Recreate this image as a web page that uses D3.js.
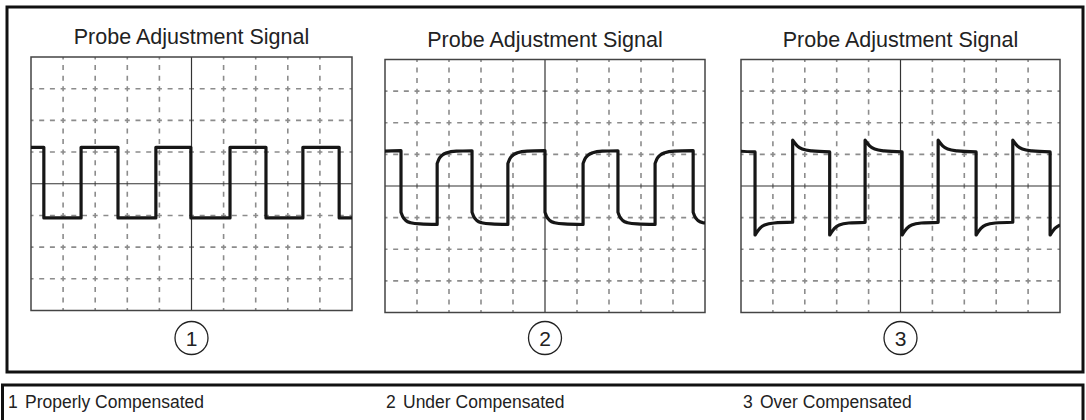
<!DOCTYPE html>
<html>
<head>
<meta charset="utf-8">
<script src="https://cdn.jsdelivr.net/npm/d3@7"></script>
<style>
  body { margin: 0; background: #fff; }
  svg text { font-family: "Liberation Sans", Arial, Helvetica, sans-serif; fill: #222; }
</style>
</head>
<body>
<div id="chart"></div>
<script>
// texts
let titles = ["Probe Adjustment Signal", "Probe Adjustment Signal", "Probe Adjustment Signal"];
let panelNums = ["1", "2", "3"];
let legendLabels = ["Properly Compensated", "Under Compensated", "Over Compensated"];

// scope graticule: 10 x 8 divisions, centre lines drawn solid
let gridX = [1, 2, 3, 4, 6, 7, 8, 9];
let gridY = [-3, -2, -1, 1, 2, 3];

// edge times (div). first = rise before the left edge, last = right edge of screen
let edges1 = [-0.75, 0.40, 1.56, 2.71, 3.89, 4.98, 6.20, 7.32, 8.47, 9.60, 10];
let edges2 = [-0.65, 0.50, 1.63, 2.72, 3.84, 5.00, 6.19, 7.28, 8.44, 9.63, 10];
let edges3 = [-0.72, 0.44, 1.62, 2.78, 3.89, 5.05, 6.18, 7.37, 8.52, 9.69, 10];

// trace after an edge: [time since edge (div), level (div)]
let high1 = [[0, 1.15], [1.3, 1.15]];
let low1  = [[0, -1.08], [1.3, -1.08]];
let high2 = [[0, 0.71], [0.06, 0.86], [0.15, 0.97], [0.3, 1.05], [0.6, 1.10], [1.3, 1.12]];
let low2  = [[0, -0.83], [0.06, -0.98], [0.15, -1.09], [0.3, -1.16], [0.6, -1.20], [1.3, -1.22]];
let high3 = [[0, 1.45], [0.06, 1.37], [0.15, 1.26], [0.3, 1.17], [0.6, 1.11], [1.3, 1.07]];
let low3  = [[0, -1.55], [0.06, -1.46], [0.15, -1.34], [0.3, -1.23], [0.6, -1.17], [1.3, -1.14]];

let width = 1086, height = 420;

let panels = [
  {x0: 31, x1: 352, y0: 57, y1: 310.5, edges: edges1, high: high1, low: low1},
  {x0: 385, x1: 705, y0: 59.5, y1: 312.5, edges: edges2, high: high2, low: low2},
  {x0: 741, x1: 1060, y0: 59.5, y1: 312.5, edges: edges3, high: high3, low: low3}
];

let svg = d3.select("#chart").append("svg")
  .attr("width", width)
  .attr("height", height);

// outer frame + legend box
svg.append("rect")
  .attr("x", 7).attr("y", 7)
  .attr("width", 1076).attr("height", 365)
  .attr("fill", "none").attr("stroke", "#111").attr("stroke-width", 3);

svg.append("rect")
  .attr("x", 2.5).attr("y", 385)
  .attr("width", 1080.5).attr("height", 60)
  .attr("fill", "none").attr("stroke", "#111").attr("stroke-width", 3);

let valueAt = (shape, t) => d3.scaleLinear()
  .domain(shape.map(p => p[0]))
  .range(shape.map(p => p[1]))
  .clamp(true)(t);

let tracePath = (p, x, y) => {
  let line = d3.line()
    .x(d => x(d[0]))
    .y(d => y(d[1]))
    .curve(d3.curveMonotoneX);
  let d = "";
  for (let i = 0; i < p.edges.length - 1; i++) {
    let t0 = p.edges[i], t1 = p.edges[i + 1];
    let shape = i % 2 == 0 ? p.high : p.low;
    let pts = shape.filter(s => s[0] < t1 - t0 - 0.02).map(s => [t0 + s[0], s[1]]);
    pts.push([t1, valueAt(shape, t1 - t0)]);
    let seg = line(pts);
    d += i == 0 ? seg : "L" + seg.slice(1); // join segments with a vertical edge
  }
  return d;
};

panels.forEach((p, i) => {
  let x = d3.scaleLinear().domain([0, 10]).range([p.x0, p.x1]);
  let y = d3.scaleLinear().domain([-4, 4]).range([p.y1, p.y0]);
  let dx = x(1) - x(0), dy = y(0) - y(1);
  let dash = 5;

  let g = svg.append("g");

  svg.append("clipPath").attr("id", "clip" + i)
    .append("rect")
    .attr("x", p.x0).attr("y", p.y0)
    .attr("width", p.x1 - p.x0).attr("height", p.y1 - p.y0);

  // dashed graticule
  g.selectAll(".gx").data(gridX).enter().append("line")
    .attr("x1", d => x(d)).attr("x2", d => x(d))
    .attr("y1", p.y0).attr("y2", p.y1)
    .attr("stroke", "#8c8c8c").attr("stroke-width", 1.6)
    .attr("stroke-dasharray", `${dash} ${dy / 3 - dash}`)
    .attr("stroke-dashoffset", dash / 2);

  g.selectAll(".gy").data(gridY).enter().append("line")
    .attr("x1", p.x0).attr("x2", p.x1)
    .attr("y1", d => y(d)).attr("y2", d => y(d))
    .attr("stroke", "#8c8c8c").attr("stroke-width", 1.6)
    .attr("stroke-dasharray", `${dash} ${dx / 3 - dash}`)
    .attr("stroke-dashoffset", dash / 2);

  // centre lines
  g.append("line")
    .attr("x1", x(5)).attr("x2", x(5)).attr("y1", p.y0).attr("y2", p.y1)
    .attr("stroke", "#333").attr("stroke-width", 1.2);
  g.append("line")
    .attr("x1", p.x0).attr("x2", p.x1).attr("y1", y(0)).attr("y2", y(0))
    .attr("stroke", "#333").attr("stroke-width", 1.2);

  // screen border
  g.append("rect")
    .attr("x", p.x0).attr("y", p.y0)
    .attr("width", p.x1 - p.x0).attr("height", p.y1 - p.y0)
    .attr("fill", "none").attr("stroke", "#444").attr("stroke-width", 1.5);

  // trace
  g.append("path")
    .attr("d", tracePath(p, x, y))
    .attr("clip-path", `url(#clip${i})`)
    .attr("fill", "none")
    .attr("stroke", "#161616")
    .attr("stroke-width", 3.2)
    .attr("stroke-linejoin", "round");

  // title
  g.append("text")
    .attr("x", x(5)).attr("y", p.y0 - 13)
    .attr("text-anchor", "middle")
    .attr("font-size", 21.5)
    .text(titles[i]);

  // callout number
  g.append("circle")
    .attr("cx", x(5)).attr("cy", 338).attr("r", 16.5)
    .attr("fill", "none").attr("stroke", "#222").attr("stroke-width", 1.3);
  g.append("text")
    .attr("x", x(5)).attr("y", 345.5)
    .attr("text-anchor", "middle")
    .attr("font-size", 21)
    .text(panelNums[i]);
});

// legend
let legendX = [8, 386, 743];
legendLabels.forEach((label, i) => {
  svg.append("text")
    .attr("x", legendX[i]).attr("y", 408)
    .attr("font-size", 17.5)
    .text(panelNums[i]);
  svg.append("text")
    .attr("x", legendX[i] + 17).attr("y", 408)
    .attr("font-size", 17.5)
    .text(label);
});
</script>
</body>
</html>
